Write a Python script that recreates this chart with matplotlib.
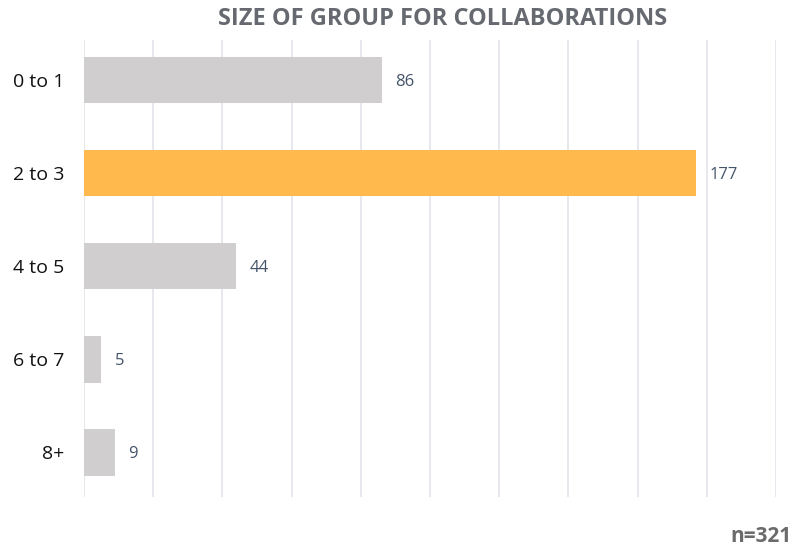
import numpy as np
import matplotlib.pyplot as plt

categories = ['0 to 1', '2 to 3', '4 to 5', '6 to 7', '8+']
counts = [86, 177, 44, 5, 9]
highlight = '2 to 3'
n_total = 321

plt.rcParams['font.family'] = ['Open Sans', 'DejaVu Sans']

fig = plt.figure(figsize=(7.99, 5.50), dpi=100)
ax = fig.add_axes([84/799, 1 - 497/550, (776 - 84)/799, (497 - 40)/550])

colors = ['#FFB94D' if c == highlight else '#D0CECE' for c in categories]
y = np.arange(len(categories))
ax.barh(y, counts, height=0.5, color=colors, zorder=2)

for yi, v in zip(y, counts):
    ax.text(v + 3.8, yi, str(v), va='center_baseline', ha='left', fontsize=12, color='#44546A')

ax.set_xlim(0, 200)
ax.set_ylim(4.48, -0.43)
ax.set_xticks(np.arange(0, 201, 20))
ax.set_xticklabels([])
ax.tick_params(axis='x', length=0)
ax.tick_params(axis='y', length=0, pad=14, labelsize=14, labelcolor='#111111')
ax.set_yticks(y)
ax.set_yticklabels(categories, va='center_baseline')
ax.grid(axis='x', color='#E1E4EA', linewidth=1.2, zorder=0)
for s in ax.spines.values():
    s.set_visible(False)

fig.text(443/799, 1 - 19/550, 'SIZE OF GROUP FOR COLLABORATIONS', ha='center', va='center',
         fontsize=17, fontweight='bold', color='#666A70')
fig.text(792/799, 1 - 537/550, 'n=%d' % n_total, ha='right', va='center',
         fontsize=15, fontweight='bold', color='#6B6B6B')

fig.savefig('out.png', dpi=100)
